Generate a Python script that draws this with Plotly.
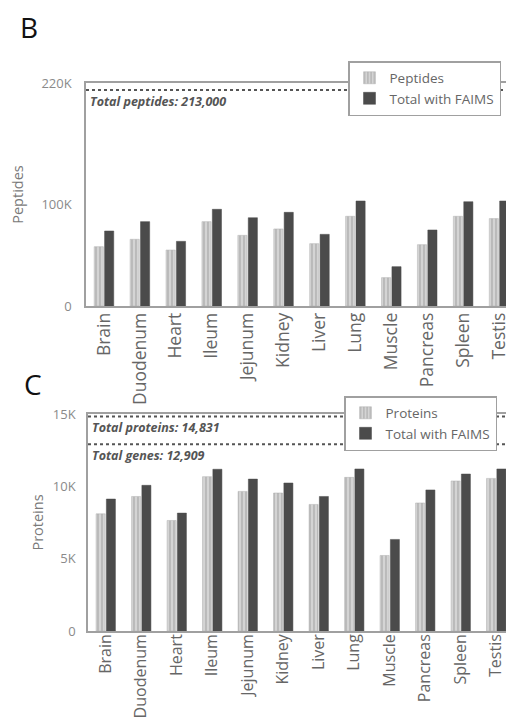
import plotly.graph_objects as go

tissues = ["Brain", "Duodenum", "Heart", "Ileum", "Jejunum", "Kidney", "Liver",
           "Lung", "Muscle", "Pancreas", "Spleen", "Testis"]

peptides = [58500, 65800, 55200, 83200, 69700, 76000, 61500, 88500, 28000, 60500, 88500, 86200]
peptides_faims = [74000, 83200, 63800, 95400, 87100, 92400, 70700, 103600, 38800, 75000, 102900, 103600]

proteins = [8100, 9300, 7640, 10670, 9650, 9540, 8750, 10620, 5220, 8850, 10370, 10550]
proteins_faims = [9120, 10070, 8150, 11180, 10500, 10230, 9300, 11200, 6330, 9750, 10850, 11200]

total_peptides = 213000
total_proteins = 14831
total_genes = 12909

pep_ticks = [0, 100000, 220000]
pep_ticktext = ["0", "100K", "220K"]
prot_ticks = [0, 5000, 10000, 15000]
prot_ticktext = ["0", "5K", "10K", "15K"]

FONT = "Open Sans"
LIGHT = "#d4d4d4"
STRIPE = "#8c8c8c"
DARK = "#4b4b4b"
FRAME = "#a0a0a0"
TXT = "#6a6a6a"

W, H = 514, 720


def px(x):
    return x / W


def py(y):
    return 1 - y / H


fig = go.Figure()

striped = dict(color=LIGHT,
               pattern=dict(shape="|", fgcolor=STRIPE, bgcolor=LIGHT, size=4, solidity=0.35),
               line=dict(color="#b0b0b0", width=0.5))
solid = dict(color=DARK, line=dict(color=DARK, width=0.5))

fig.add_trace(go.Bar(x=tissues, y=peptides, name="Peptides", marker=striped,
                     xaxis="x", yaxis="y", legend="legend"))
fig.add_trace(go.Bar(x=tissues, y=peptides_faims, name="Total with FAIMS", marker=solid,
                     xaxis="x", yaxis="y", legend="legend"))
fig.add_trace(go.Bar(x=tissues, y=proteins, name="Proteins", marker=striped,
                     xaxis="x2", yaxis="y2", legend="legend2"))
fig.add_trace(go.Bar(x=tissues, y=proteins_faims, name="Total with FAIMS", marker=solid,
                     xaxis="x2", yaxis="y2", legend="legend2"))

axis_common = dict(showline=True, linecolor=FRAME, linewidth=1.5, mirror=True,
                   showgrid=False, zeroline=False, automargin=False)

fig.update_layout(
    width=W, height=H,
    margin=dict(l=0, r=0, t=0, b=0),
    paper_bgcolor="white", plot_bgcolor="white",
    font=dict(family=FONT, color=TXT),
    barmode="group", bargap=0.42, bargroupgap=0.12,
    xaxis=dict(domain=[px(78), px(509)], anchor="y", tickangle=-90,
               tickfont=dict(size=17.5, color="#666666"), ticks="", ticklabelstandoff=-2,
               **axis_common),
    yaxis=dict(domain=[py(298), py(75)], anchor="x", range=[0, 220000],
               tickvals=pep_ticks, ticktext=pep_ticktext, ticks="",
               tickfont=dict(size=13, color="#8a8a8a"), ticklabelstandoff=10,
               title=dict(text="Peptides", font=dict(size=14.5, color="#7a7a7a"), standoff=14),
               **axis_common),
    xaxis2=dict(domain=[px(80), px(506)], anchor="y2", tickangle=-90,
                tickfont=dict(size=16, color="#666666"), ticks="", ticklabelstandoff=-5,
                **axis_common),
    yaxis2=dict(domain=[py(623), py(406)], anchor="x2", range=[0, 15000],
                tickvals=prot_ticks, ticktext=prot_ticktext, ticks="",
                tickfont=dict(size=13, color="#8a8a8a"), ticklabelstandoff=8,
                title=dict(text="Proteins", font=dict(size=14.5, color="#7a7a7a"), standoff=6),
                **axis_common),
    legend=dict(x=px(493), y=py(53), xanchor="right", yanchor="top",
                bgcolor="white", bordercolor=FRAME, borderwidth=1.5,
                font=dict(size=13.5, color="#666666"), itemwidth=30,
                tracegroupgap=0),
    legend2=dict(x=px(489), y=py(388), xanchor="right", yanchor="top",
                 bgcolor="white", bordercolor=FRAME, borderwidth=1.5,
                 font=dict(size=13.5, color="#666666"), itemwidth=30,
                 tracegroupgap=0),
    showlegend=True,
)

# dotted reference lines
for yref, xref, val in [("y", "x", total_peptides), ("y2", "x2", total_proteins),
                        ("y2", "x2", total_genes)]:
    fig.add_shape(type="line", xref=f"{xref} domain", yref=yref, x0=0, x1=1, y0=val, y1=val,
                  line=dict(color="#555555", width=2, dash="dot"), layer="below")

for yref, xref, val, label in [("y", "x", total_peptides, "Total peptides"),
                               ("y2", "x2", total_proteins, "Total proteins"),
                               ("y2", "x2", total_genes, "Total genes")]:
    fig.add_annotation(xref=f"{xref} domain", yref=yref, x=0.005, y=val,
                       xanchor="left", yanchor="top", yshift=-1, showarrow=False,
                       text=f"<i>{label}: {val:,}</i>",
                       font=dict(size=12.5, color="#555555", weight="bold"))

# panel letters
fig.add_annotation(xref="paper", yref="paper", x=px(10), y=py(-2), xanchor="left", yanchor="top",
                   text="B", showarrow=False, font=dict(size=28, color="#111111"))
fig.add_annotation(xref="paper", yref="paper", x=px(14), y=py(355), xanchor="left", yanchor="top",
                   text="C", showarrow=False, font=dict(size=28, color="#111111"))

fig.write_html("out.html")
